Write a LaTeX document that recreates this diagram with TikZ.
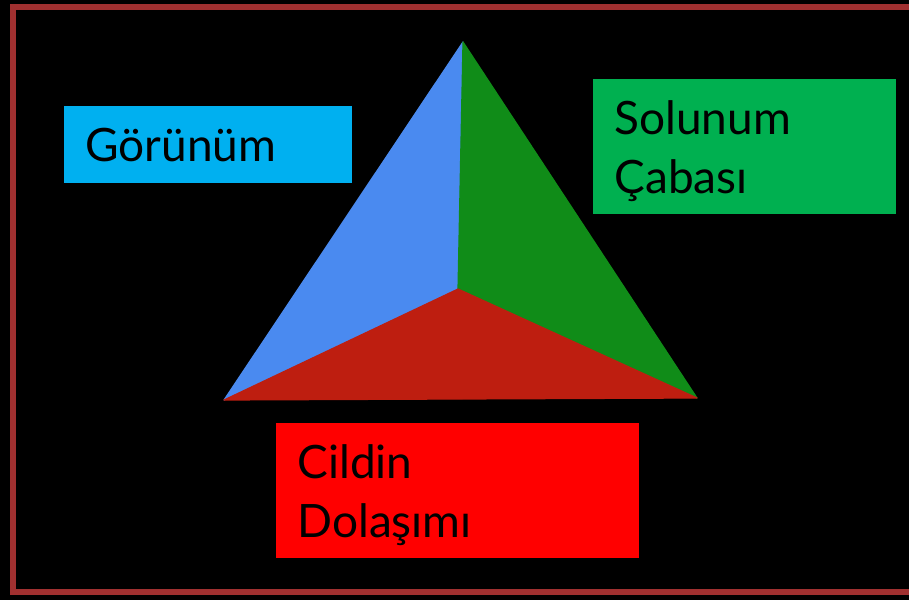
\documentclass[tikz,border=0pt]{standalone}
\usepackage{fontspec}
\setmainfont{Lato}
\usepackage{tikz}
\usetikzlibrary{positioning}
\colorlet{pyrblue}{rgb,255:red,74;green,138;blue,240}
\colorlet{pyrgreen}{rgb,255:red,16;green,140;blue,24}
\colorlet{pyrred}{rgb,255:red,190;green,30;blue,16}
\colorlet{boxcyan}{rgb,255:red,0;green,176;blue,240}
\colorlet{boxgreen}{rgb,255:red,0;green,176;blue,80}
\colorlet{boxred}{rgb,255:red,255;green,0;blue,0}
\colorlet{frame}{rgb,255:red,160;green,48;blue,48}
\tikzset{
  pyrface/.style={line width=0.6pt,line join=round},
  pyrbox/.style={
    rectangle,
    inner sep=0pt,
    anchor=north west
  },
  pyrtext/.style={
    font=\fontsize{23}{29.5}\selectfont,
    align=left,
    inner sep=0pt,
    text=black,
    anchor=base west
  }
}
\begin{document}
\begin{tikzpicture}[x=0.5pt,y=-0.5pt]
  \clip (0,0) rectangle (909,600);
  \fill[black] (0,0) rectangle (909,600);
  \draw[frame,line width=2.6pt] (13,7) rectangle (930,592);

  % pyramid corners
  \coordinate (apex) at (463,42);
  \coordinate (mid) at (458,289);
  \coordinate (lft) at (224,400);
  \coordinate (rgt) at (697,398);

  \fill[pyrblue,draw=pyrblue,pyrface] (apex) -- (lft) -- (mid) -- cycle;
  \fill[pyrgreen,draw=pyrgreen,pyrface] (apex) -- (mid) -- (rgt) -- cycle;
  \fill[pyrred,draw=pyrred,pyrface] (lft) -- (mid) -- (rgt) -- cycle;

  % label boxes
  \node[pyrbox,fill=boxcyan,minimum width=144pt,minimum height=38.5pt] (viewbox) at (64,106) {};
  \node[pyrbox,fill=boxgreen,minimum width=151.5pt,minimum height=67.5pt] (breathbox) at (593,79) {};
  \node[pyrbox,fill=boxred,minimum width=181.5pt,minimum height=67.5pt] (skinbox) at (276,423) {};

  % base = last line
  \node[pyrtext] (view) at (85,161) {Görünüm};
  \node[pyrtext] (breath) at (614,193) {Solunum\\Çabası};
  \node[pyrtext] (skin) at (297,537) {Cildin\\Dolaşımı};
\end{tikzpicture}
\end{document}
